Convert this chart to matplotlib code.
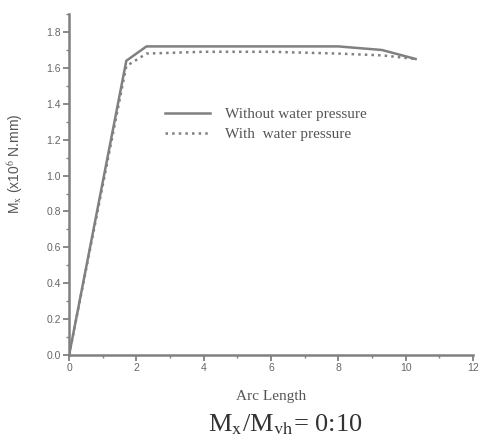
import matplotlib.pyplot as plt
import numpy as np

# arc length vs moment, two loading cases
arc_dry = [0, 1.7, 2.3, 4, 6, 8, 9.3, 10.3]
mx_dry = [0, 1.64, 1.72, 1.72, 1.72, 1.72, 1.70, 1.65]
arc_wet = [0, 1.7, 2.3, 4, 6, 8, 9.3, 10.3]
mx_wet = [0, 1.61, 1.68, 1.69, 1.69, 1.68, 1.67, 1.65]

plt.rcParams['font.family'] = ['Liberation Serif', 'DejaVu Serif']
plt.rcParams['mathtext.fontset'] = 'stix'
grey = '#808080'
sans = ['Liberation Sans', 'DejaVu Sans']

fig = plt.figure(figsize=(4.8, 4.41), dpi=100)
ax = fig.add_axes([0.144, 0.195, 0.841, 0.773])

ax.plot(arc_dry, mx_dry, '-', color=grey, lw=1.8, label='Without water pressure')
ax.plot(arc_wet, mx_wet, ':', color=grey, lw=1.8, label='With  water pressure')

ax.set_xlim(0, 12)
ax.set_ylim(0, 1.9)
ax.set_xticks(np.arange(0, 13, 2))
ax.set_xticks(np.arange(0, 13, 1), minor=True)
ax.set_yticks(np.arange(0, 1.81, 0.2))
ax.set_yticks(np.arange(0, 1.91, 0.1), minor=True)
ax.set_yticklabels(['%.1f' % v for v in np.arange(0, 1.81, 0.2)])
for lab in ax.get_xticklabels() + ax.get_yticklabels():
    lab.set_family(sans)

for s in ['top', 'right']:
    ax.spines[s].set_visible(False)
for s in ['left', 'bottom']:
    ax.spines[s].set_color(grey)
    ax.spines[s].set_linewidth(1.8)
ax.tick_params(which='both', direction='out', colors=grey, labelsize=7.5, labelcolor='#666666')
ax.tick_params(which='major', length=4, width=1.3, pad=2)
ax.tick_params(which='minor', length=2, width=1.0)

ax.set_ylabel(r'M$_\mathrm{x}$ (x10$^6$ N.mm)', fontsize=10, color='#555555', family=sans)
ax.yaxis.set_label_coords(-0.11, 0.56)
ax.set_xlabel('Arc Length', fontsize=11, color='#555555', labelpad=12)

ax.legend(loc='center left', bbox_to_anchor=(0.238, 0.677), frameon=False,
          fontsize=11, handlelength=2.9, handletextpad=1.0, labelspacing=0.4,
          borderpad=0, borderaxespad=0, labelcolor='#555555')

fig.text(0.595, 0.022, r'M$_\mathrm{x}$/M$_\mathrm{vh}$= 0:10', fontsize=19, ha='center', color='#333333')

fig.savefig('out.png', dpi=100)
